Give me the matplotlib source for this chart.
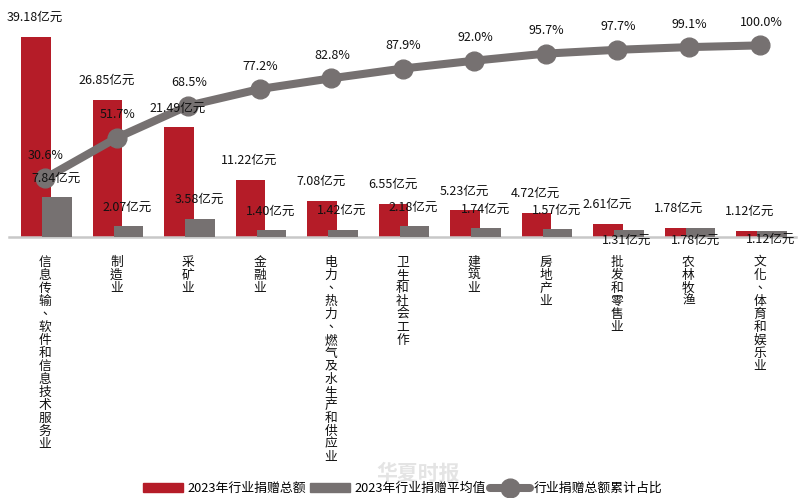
import matplotlib
matplotlib.use('Agg')
import matplotlib.pyplot as plt
import numpy as np
from matplotlib.lines import Line2D
from matplotlib.patches import Patch

plt.rcParams['font.family'] = ['Noto Sans CJK SC', 'DejaVu Sans']

categories = ['信息传输、软件和信息技术服务业', '制造业', '采矿业', '金融业',
              '电力、热力、燃气及水生产和供应业', '卫生和社会工作', '建筑业', '房地产业',
              '批发和零售业', '农林牧渔', '文化、体育和娱乐业']
total = [39.18, 26.85, 21.49, 11.22, 7.08, 6.55, 5.23, 4.72, 2.61, 1.78, 1.12]
average = [7.84, 2.07, 3.58, 1.40, 1.42, 2.18, 1.74, 1.57, 1.31, 1.78, 1.12]
cumulative = [30.6, 51.7, 68.5, 77.2, 82.8, 87.9, 92.0, 95.7, 97.7, 99.1, 100.0]

RED = '#b51c28'
GRAY = '#767171'
W, H = 802, 498
BASE_Y = 237
PX = 72 / 100  # one pixel in points
BAR_TOP = BASE_Y / 5.1
LINE_TOP = BASE_Y / 1.916

# the last three average labels sit under the axis in the original
avg_label_dy = [19, 19, 19, 19, 19, 19, 19, 19, -10, -12, -8]
avg_label_dx = [0, 0, 0, 0, 0, 0, 0, 0, -1, -4, 0]

fig = plt.figure(figsize=(W / 100, H / 100), dpi=100)
ax = fig.add_axes([9.25 / W, (H - BASE_Y) / H, 786.5 / W, BASE_Y / H])
ax2 = ax.twinx()
ax.set_zorder(1)
ax2.set_zorder(2)
ax2.patch.set_visible(False)

x = np.arange(len(categories))
ax.bar(x - 0.125, total, 0.41, color=RED, zorder=2)
ax.bar(x + 0.17, average, 0.41, color=GRAY, zorder=3)
ax2.plot(x, cumulative, color=GRAY, lw=5.8, marker='o', ms=13.5, solid_capstyle='round')

ax.set_xlim(-0.5, 10.5)
ax.set_ylim(0, BAR_TOP)
ax2.set_ylim(0, LINE_TOP)
ax.set_yticks([])
ax2.set_yticks([])
for a in (ax, ax2):
    for side in ('top', 'left', 'right', 'bottom'):
        a.spines[side].set_visible(False)
ax.spines['bottom'].set_visible(True)
ax.spines['bottom'].set_color('#c8c8c8')
ax.spines['bottom'].set_linewidth(1.8)

# TC font: its 、 sits mid-cell like the original instead of low-left
ax.set_xticks(x)
ax.set_xticklabels(['\n'.join(c) for c in categories], fontsize=9.2, va='top',
                   linespacing=1.0, color='#111111',
                   family=['Noto Sans CJK TC', 'DejaVu Sans'])
ax.tick_params(axis='x', length=0, pad=13.5)
ax2.tick_params(axis='x', length=0, labelbottom=False)

# labels live on ax2 so they stay above the line, bar values need rescaling
scale = LINE_TOP / BAR_TOP
for i, v in enumerate(total):
    ax2.annotate(f'{v:.2f}亿元', (x[i] - 0.14, v * scale),
                 xytext=(0, 19.5 * PX), textcoords='offset points',
                 ha='center', va='center', fontsize=9, color='#111111')
for i, v in enumerate(average):
    ax2.annotate(f'{v:.2f}亿元', (x[i] + 0.155, v * scale),
                 xytext=(avg_label_dx[i] * PX, avg_label_dy[i] * PX), textcoords='offset points',
                 ha='center', va='center', fontsize=9, color='#111111')
for i, v in enumerate(cumulative):
    ax2.annotate(f'{v:.1f}%', (x[i], v), xytext=(1 * PX, 23 * PX), textcoords='offset points',
                 ha='center', va='center', fontsize=9, color='#111111')

# watermark behind the legend
fig.text(418 / W, 1 - 473 / H, '华夏时报', ha='center', va='center', fontsize=15,
         fontweight='bold', color='#e4e4e4')

handles = [Patch(color=RED), Patch(color=GRAY),
           Line2D([], [], color=GRAY, lw=5.8, marker='o', ms=13.5, solid_capstyle='round')]
labels = ['2023年行业捐赠总额', '2023年行业捐赠平均值', '行业捐赠总额累计占比']
fig.legend(handles, labels, loc='center', bbox_to_anchor=(403 / W, 1 - 488.5 / H), ncol=3,
           frameon=False, fontsize=9.25, handlelength=3.1, handleheight=0.65,
           handletextpad=0.35, columnspacing=0.3, borderpad=0, borderaxespad=0)

fig.savefig('out.png', dpi=100)
